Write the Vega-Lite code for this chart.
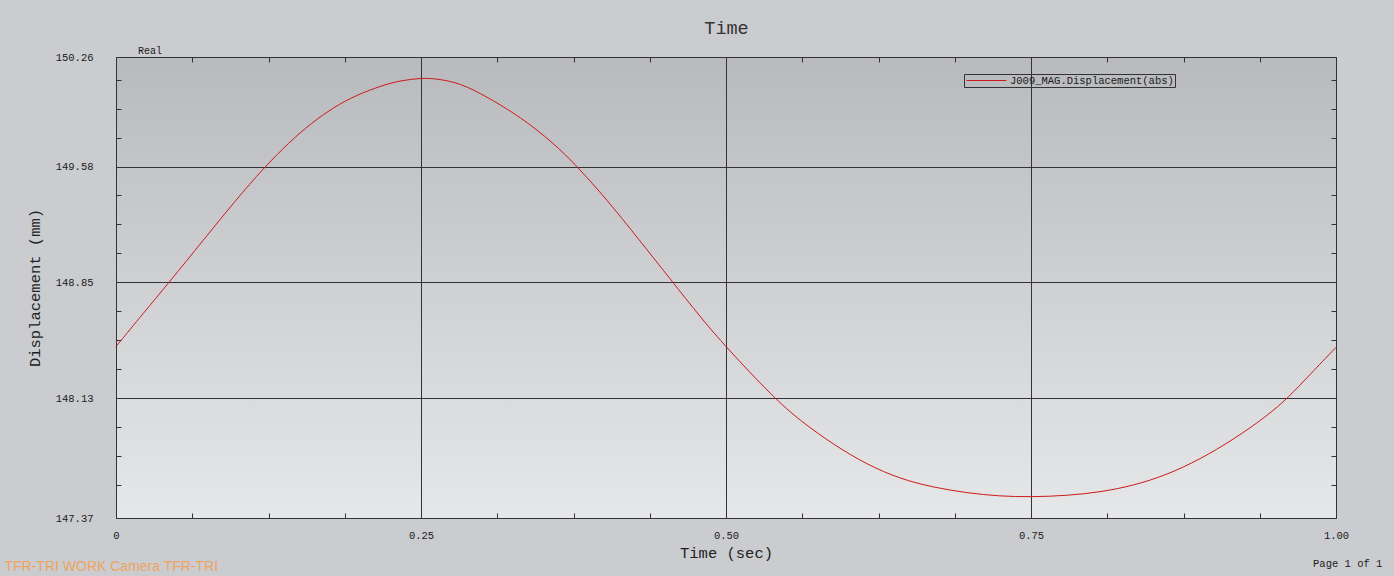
{
  "$schema": "https://vega.github.io/schema/vega-lite/v6.json",
  "width": 1220,
  "height": 461,
  "autosize": {"type": "none"},
  "padding": {"left": 116, "top": 57, "right": 58, "bottom": 58},
  "background": "#cbccd0",
  "config": {
    "view": {
      "stroke": "#333333",
      "strokeWidth": 1,
      "fill": {"gradient": "linear", "x1": 0, "y1": 0, "x2": 0, "y2": 1, "stops": [{"offset": 0, "color": "#b9babd"}, {"offset": 1, "color": "#e6e7e9"}]}
    },
    "axis": {
      "labelFont": "Liberation Mono",
      "labelFontSize": 10.5,
      "labelColor": "#1a1a1a",
      "titleFont": "Liberation Mono",
      "titleFontWeight": "normal",
      "titleColor": "#222222",
      "tickColor": "#333333",
      "tickWidth": 1,
      "tickSize": -5,
      "gridColor": "#333333",
      "gridWidth": 1,
      "domain": false,
      "labelOverlap": false,
      "labelFlush": false,
      "labelBound": false
    }
  },
  "data": {
    "values": [
      {"t": 0, "v": 148.445},
      {"t": 0.0228, "v": 148.657},
      {"t": 0.0438, "v": 148.85},
      {"t": 0.0719, "v": 149.115},
      {"t": 0.0979, "v": 149.36},
      {"t": 0.1211, "v": 149.565},
      {"t": 0.1419, "v": 149.725},
      {"t": 0.16, "v": 149.845},
      {"t": 0.1785, "v": 149.945},
      {"t": 0.1965, "v": 150.02},
      {"t": 0.2194, "v": 150.085},
      {"t": 0.2331, "v": 150.112},
      {"t": 0.25, "v": 150.128},
      {"t": 0.2618, "v": 150.125},
      {"t": 0.2823, "v": 150.097},
      {"t": 0.3041, "v": 150.01},
      {"t": 0.3315, "v": 149.885},
      {"t": 0.3588, "v": 149.72},
      {"t": 0.3779, "v": 149.575},
      {"t": 0.4025, "v": 149.365},
      {"t": 0.4284, "v": 149.118},
      {"t": 0.4557, "v": 148.855},
      {"t": 0.4789, "v": 148.63},
      {"t": 0.4996, "v": 148.445},
      {"t": 0.539, "v": 148.125},
      {"t": 0.5608, "v": 147.98},
      {"t": 0.5881, "v": 147.83},
      {"t": 0.6155, "v": 147.705},
      {"t": 0.6428, "v": 147.615},
      {"t": 0.67, "v": 147.562},
      {"t": 0.6974, "v": 147.527},
      {"t": 0.7247, "v": 147.506},
      {"t": 0.7501, "v": 147.502},
      {"t": 0.7793, "v": 147.51},
      {"t": 0.8066, "v": 147.532},
      {"t": 0.8339, "v": 147.573},
      {"t": 0.8613, "v": 147.64},
      {"t": 0.8886, "v": 147.738},
      {"t": 0.9159, "v": 147.862},
      {"t": 0.9432, "v": 148.008},
      {"t": 0.961, "v": 148.125},
      {"t": 0.9787, "v": 148.27},
      {"t": 1, "v": 148.44}
    ]
  },
  "layer": [
    {
      "mark": {"type": "line", "interpolate": "basis", "strokeWidth": 1},
      "encoding": {
        "x": {
          "field": "t",
          "type": "quantitative",
          "scale": {"domain": [0, 1], "nice": false, "zero": false},
          "axis": {
            "orient": "bottom",
            "values": [0, 0.0625, 0.125, 0.1875, 0.25, 0.3125, 0.375, 0.4375, 0.5, 0.5625, 0.625, 0.6875, 0.75, 0.8125, 0.875, 0.9375, 1],
            "labelExpr": "datum.value == 0 ? '0' : (datum.value * 4 == floor(datum.value * 4) ? format(datum.value, '.2f') : '')",
            "labelPadding": 17,
            "grid": true,
            "gridOpacity": {"condition": {"test": "datum.value == 0.25 || datum.value == 0.5 || datum.value == 0.75", "value": 1}, "value": 0},
            "title": "Time (sec)",
            "titleFontSize": 15.5,
            "titlePadding": 5
          }
        },
        "y": {
          "field": "v",
          "type": "quantitative",
          "scale": {"domain": [147.37, 150.26], "nice": false, "zero": false},
          "axis": {
            "orient": "left",
            "values": [147.37, 147.576, 147.757, 147.939, 148.121, 148.303, 148.485, 148.666, 148.847, 149.029, 149.211, 149.393, 149.572, 149.754, 149.936, 150.118, 150.26],
            "labelExpr": "datum.value == 150.26 ? '150.26' : datum.value == 149.572 ? '149.58' : datum.value == 148.847 ? '148.85' : datum.value == 148.121 ? '148.13' : datum.value == 147.37 ? '147.37' : ''",
            "labelPadding": 28,
            "grid": true,
            "gridOpacity": {"condition": {"test": "datum.value == 149.572 || datum.value == 148.847 || datum.value == 148.121", "value": 1}, "value": 0},
            "title": "Displacement (mm)",
            "titleFontSize": 15.5,
            "titlePadding": 13
          }
        },
        "color": {
          "datum": "J009_MAG.Displacement(abs)",
          "type": "nominal",
          "scale": {"range": ["#cc1a1a"]},
          "legend": {
            "orient": "none",
            "legendX": 848,
            "legendY": 17,
            "title": null,
            "symbolType": "M-4,0H4",
            "symbolSize": 100,
            "symbolStrokeWidth": 1,
            "symbolFillColor": "transparent",
            "symbolOffset": 16,
            "labelOffset": 18,
            "labelLimit": 0,
            "labelFont": "Liberation Mono",
            "labelFontSize": 10.5,
            "labelColor": "#1a1a1a",
            "padding": 1,
            "strokeColor": "#333333",
            "cornerRadius": 0
          }
        }
      }
    },
    {
      "data": {"values": [{}]},
      "mark": {"type": "text", "text": "Real", "align": "left", "baseline": "alphabetic", "dy": -3, "font": "Liberation Mono", "fontSize": 10, "color": "#1a1a1a"},
      "encoding": {
        "x": {
          "datum": 0.018,
          "type": "quantitative",
          "scale": {"domain": [0, 1], "nice": false, "zero": false},
          "axis": {
            "orient": "top",
            "values": [0, 0.0625, 0.125, 0.1875, 0.25, 0.3125, 0.375, 0.4375, 0.5, 0.5625, 0.625, 0.6875, 0.75, 0.8125, 0.875, 0.9375, 1],
            "labels": false,
            "grid": false,
            "title": "Time",
            "titleFontSize": 18.5,
            "titleColor": "#333333",
            "titlePadding": 19
          }
        },
        "y": {
          "datum": 150.26,
          "type": "quantitative",
          "scale": {"domain": [147.37, 150.26], "nice": false, "zero": false},
          "axis": {
            "orient": "right",
            "values": [147.37, 147.576, 147.757, 147.939, 148.121, 148.303, 148.485, 148.666, 148.847, 149.029, 149.211, 149.393, 149.572, 149.754, 149.936, 150.118, 150.26],
            "labels": false,
            "grid": false,
            "title": null
          }
        }
      }
    },
    {
      "data": {"values": [{}]},
      "mark": {"type": "text", "text": "Page 1 of 1", "align": "right", "baseline": "middle", "font": "Liberation Mono", "fontSize": 10.5, "color": "#1a1a1a"},
      "encoding": {
        "x": {"datum": 1.038, "type": "quantitative", "axis": null},
        "y": {"datum": 147.079, "type": "quantitative", "axis": null}
      }
    },
    {
      "data": {"values": [{}]},
      "mark": {"type": "text", "text": "TFR-TRI WORK Camera TFR-TRI", "align": "left", "baseline": "middle", "font": "Liberation Sans", "fontSize": 14, "color": "#eda460"},
      "encoding": {
        "x": {"datum": -0.0914, "type": "quantitative", "axis": null},
        "y": {"datum": 147.063, "type": "quantitative", "axis": null}
      }
    }
  ],
  "resolve": {"axis": {"x": "independent", "y": "independent"}}
}
